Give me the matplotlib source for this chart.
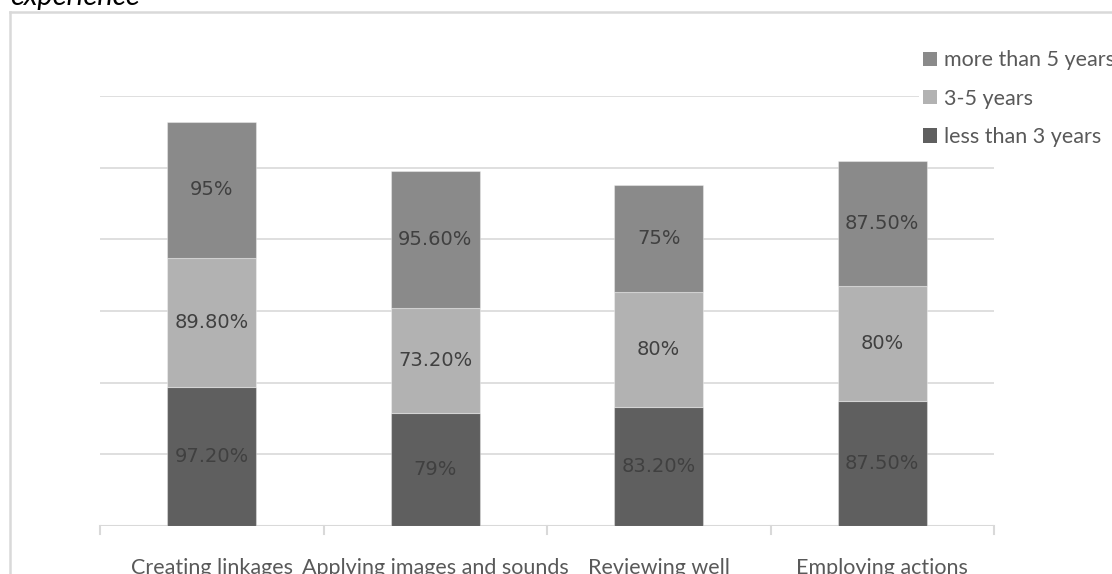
import matplotlib
matplotlib.use("Agg")
import matplotlib.pyplot as plt
from matplotlib.patches import Patch
from matplotlib.lines import Line2D

# Data: share of teachers applying each strategy, by years of experience
categories = ["Creating linkages", "Applying images and sounds",
              "Reviewing well", "Employing actions"]
series_names = ["less than 3 years", "3-5 years", "more than 5 years"]
less_than_3 = [97.2, 79.0, 83.2, 87.5]
three_to_five = [89.8, 73.2, 80.0, 80.0]
more_than_5 = [95.0, 95.6, 75.0, 87.5]
value_labels = [
    ["97.20%", "79%", "83.20%", "87.50%"],
    ["89.80%", "73.20%", "80%", "80%"],
    ["95%", "95.60%", "75%", "87.50%"],
]
series_values = [less_than_3, three_to_five, more_than_5]
series_colors = ["#5f5f5f", "#b2b2b2", "#8a8a8a"]

W, H = 1112, 574
fig = plt.figure(figsize=(W / 100, H / 100), dpi=100)
fig.patch.set_facecolor("white")

ax = fig.add_axes([100 / W, 1 - 526 / H, 894 / W, 430 / H])
ax.set_xlim(-0.5, len(categories) - 0.5)
ax.set_ylim(0, 300)

grid_c = "#d9d9d9"
for y in range(50, 301, 50):
    ax.axhline(y, color=grid_c, lw=1.2, zorder=0)

x = list(range(len(categories)))
bottoms = [0.0] * len(categories)
for vals, col, labels in zip(series_values, series_colors, value_labels):
    ax.bar(x, vals, width=0.4, bottom=bottoms, color=col,
           edgecolor=(1, 1, 1, 0.35), linewidth=0.8, zorder=2)
    for xi, v, b, lab in zip(x, vals, bottoms, labels):
        ax.text(xi, b + v / 2, lab, ha="center", va="center",
                fontsize=14, color="#404040", family="DejaVu Sans", zorder=3)
    bottoms = [b + v for b, v in zip(bottoms, vals)]

for s in ax.spines.values():
    s.set_visible(False)
ax.axhline(0, color=grid_c, lw=1.5, zorder=1)
ax.set_yticks([])
ax.set_xticks([])
# category separators below the baseline
for b in [i - 0.5 for i in range(len(categories) + 1)]:
    ax.plot([b, b], [0, -0.0186 * 300], color=grid_c, lw=1.5,
            clip_on=False, zorder=1)

trans = ax.get_xaxis_transform()
for xi, name in zip(x, categories):
    ax.text(xi, -(574 - 526) / 430, name, transform=trans, ha="center",
            va="baseline", fontsize=15.5, color="#595959", family="Lato")

# legend
handles = [Patch(facecolor=c, edgecolor="none") for c in series_colors][::-1]
leg = fig.legend(handles, series_names[::-1], loc="upper left",
                 bbox_to_anchor=(919 / W, 1 - 46 / H), frameon=True,
                 facecolor="white", edgecolor="none", framealpha=1,
                 handlelength=0.65, handleheight=0.65, handletextpad=0.3,
                 labelspacing=0.85, borderpad=0.2, borderaxespad=0,
                 prop={"family": "Lato", "size": 15.5})
for t in leg.get_texts():
    t.set_color("#595959")

# chart frame
fig.add_artist(Line2D([10 / W, 10 / W], [0, 1 - 12 / H], color=grid_c,
                      lw=1.8, transform=fig.transFigure))
fig.add_artist(Line2D([10 / W, 1.0], [1 - 12 / H, 1 - 12 / H], color=grid_c,
                      lw=1.8, transform=fig.transFigure))

fig.text(10 / W, 1 - 5 / H, "experience", ha="left", va="baseline",
         fontsize=21, style="italic", family="Lato", color="#000000")

fig.savefig("out.png", dpi=100, facecolor="white")
